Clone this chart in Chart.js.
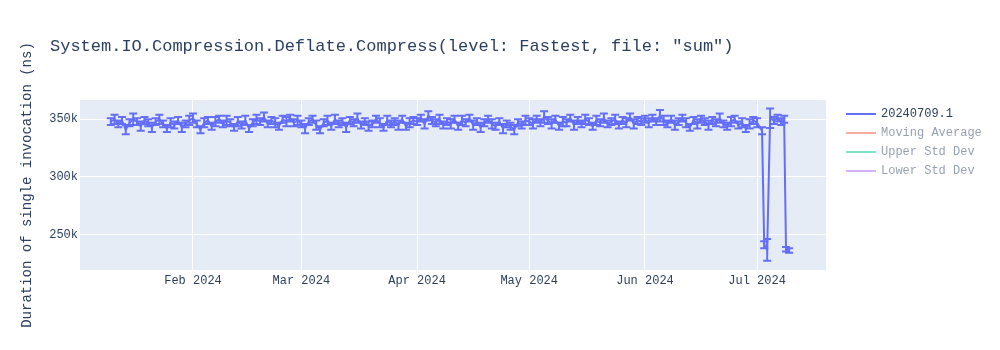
<!DOCTYPE html>
<html><head><meta charset="utf-8">
<script src="https://cdn.jsdelivr.net/npm/chart.js@4.4.1/dist/chart.umd.min.js"></script>
<style>html,body{margin:0;padding:0;background:#fff}#wrap{width:1000px;height:350px}</style>
</head><body><div id="wrap"><canvas id="c" width="1000" height="350"></canvas></div>
<script>
const chartTitle = 'System.IO.Compression.Deflate.Compress(level: Fastest, file: "sum")';
const yAxisTitle = 'Duration of single invocation (ns)';
const seriesNames = ['20240709.1', 'Moving Average', 'Upper Std Dev', 'Lower Std Dev'];
const seriesColors = ['#636efa', '#EF553B', '#00cc96', '#ab63fa'];
const seriesHidden = [false, true, true, true];

const dates = [
'2024-01-10','2024-01-11','2024-01-12','2024-01-13','2024-01-14','2024-01-15','2024-01-16','2024-01-17','2024-01-18','2024-01-19','2024-01-20',
'2024-01-21','2024-01-22','2024-01-23','2024-01-24','2024-01-25','2024-01-26','2024-01-27','2024-01-28','2024-01-29','2024-01-30','2024-01-31',
'2024-02-01','2024-02-02','2024-02-03','2024-02-04','2024-02-05','2024-02-06','2024-02-07','2024-02-08','2024-02-09','2024-02-10',
'2024-02-11','2024-02-12','2024-02-13','2024-02-14','2024-02-15','2024-02-16','2024-02-17','2024-02-18','2024-02-19','2024-02-20',
'2024-02-21','2024-02-22','2024-02-23','2024-02-24','2024-02-25','2024-02-26','2024-02-27','2024-02-28','2024-02-29',
'2024-03-01','2024-03-02','2024-03-03','2024-03-04','2024-03-05','2024-03-06','2024-03-07','2024-03-08','2024-03-09','2024-03-10',
'2024-03-11','2024-03-12','2024-03-13','2024-03-14','2024-03-15','2024-03-16','2024-03-17','2024-03-18','2024-03-19','2024-03-20',
'2024-03-21','2024-03-22','2024-03-23','2024-03-24','2024-03-25','2024-03-26','2024-03-27','2024-03-28','2024-03-29','2024-03-30','2024-03-31',
'2024-04-01','2024-04-02','2024-04-03','2024-04-04','2024-04-05','2024-04-06','2024-04-07','2024-04-08','2024-04-09','2024-04-10',
'2024-04-11','2024-04-12','2024-04-13','2024-04-14','2024-04-15','2024-04-16','2024-04-17','2024-04-18','2024-04-19','2024-04-20',
'2024-04-21','2024-04-22','2024-04-23','2024-04-24','2024-04-25','2024-04-26','2024-04-27','2024-04-28','2024-04-29','2024-04-30',
'2024-05-01','2024-05-02','2024-05-03','2024-05-04','2024-05-05','2024-05-06','2024-05-07','2024-05-08','2024-05-09','2024-05-10',
'2024-05-11','2024-05-12','2024-05-13','2024-05-14','2024-05-15','2024-05-16','2024-05-17','2024-05-18','2024-05-19','2024-05-20',
'2024-05-21','2024-05-22','2024-05-23','2024-05-24','2024-05-25','2024-05-26','2024-05-27','2024-05-28','2024-05-29','2024-05-30','2024-05-31',
'2024-06-01','2024-06-02','2024-06-03','2024-06-04','2024-06-05','2024-06-06','2024-06-07','2024-06-08','2024-06-09','2024-06-10',
'2024-06-11','2024-06-12','2024-06-13','2024-06-14','2024-06-15','2024-06-16','2024-06-17','2024-06-18','2024-06-19','2024-06-20',
'2024-06-21','2024-06-22','2024-06-23','2024-06-24','2024-06-25','2024-06-26','2024-06-27','2024-06-28','2024-06-29','2024-06-30',
'2024-07-01T00:00','2024-07-02T08:00','2024-07-02T22:00','2024-07-03T17:00','2024-07-04T12:00','2024-07-05T12:00','2024-07-06T12:00',
'2024-07-07T12:00','2024-07-08T06:00','2024-07-08T18:00','2024-07-09T14:00'
];

const values = [
348000,350000,346000,349000,341000,347000,350000,348000,344000,349000,347000,343000,348000,350000,346000,342000,347000,345000,349000,343000,346000,349000,
351000,346000,341000,347000,349000,344000,348000,350000,346000,349000,347000,343000,348000,345000,349000,342000,347000,350000,348000,352000,346000,349000,347000,344000,350000,348000,351000,347000,349000,
346000,342000,348000,350000,345000,341000,347000,349000,344000,350000,346000,348000,343000,349000,347000,351000,345000,348000,344000,346000,350000,347000,343000,349000,346000,348000,345000,350000,344000,347000,349000,
348000,351000,346000,353000,349000,347000,350000,345000,348000,346000,350000,344000,349000,347000,351000,345000,348000,343000,347000,350000,346000,344000,348000,342000,346000,344000,341000,347000,345000,349000,
348000,346000,350000,347000,352000,349000,346000,350000,344000,348000,347000,351000,345000,349000,346000,350000,348000,344000,349000,347000,351000,346000,348000,350000,345000,349000,347000,352000,346000,349000,348000,
350000,347000,351000,348000,353000,349000,346000,350000,345000,348000,351000,347000,343000,349000,346000,350000,348000,345000,349000,347000,351000,346000,344000,348000,350000,345000,347000,342000,346000,349000,
347000,340000,241000,236500,351000,349000,351000,348000,350000,237000,236000
];

const errors = [
3000,4000,3000,3000,4000,3000,5000,3000,4000,3000,3000,4000,3000,4000,3000,3000,4000,3000,3000,4000,3000,4000,
4000,3000,3000,4000,3000,3000,4000,3000,3000,4000,3000,3000,4000,3000,4000,3000,3000,4000,3000,4000,3000,3000,4000,3000,3000,4000,3000,3000,4000,
3000,4000,3000,3000,4000,3000,3000,4000,3000,4000,3000,3000,4000,3000,3000,4000,3000,3000,4000,3000,3000,4000,3000,4000,3000,3000,4000,3000,3000,4000,3000,
3000,3000,4000,4000,3000,3000,4000,3000,3000,4000,3000,3000,4000,3000,3000,4000,3000,4000,3000,3000,4000,3000,3000,4000,3000,3000,4000,3000,3000,4000,
3000,4000,3000,3000,5000,3000,4000,3000,3000,4000,3000,3000,4000,3000,3000,4000,3000,3000,4000,3000,4000,3000,3000,4000,3000,3000,4000,3000,4000,3000,3000,
3000,4000,3000,3000,5000,4000,3000,3000,4000,3000,3000,4000,3000,3000,4000,3000,3000,4000,3000,3000,4000,3000,3000,4000,3000,3000,4000,3000,4000,3000,
4000,3000,3000,9500,8500,3000,3000,3000,3000,2000,2000
];

const xTickDates = ['2024-02-01','2024-03-01','2024-04-01','2024-05-01','2024-06-01','2024-07-01'];
const xTickLabels = ['Feb 2024','Mar 2024','Apr 2024','May 2024','Jun 2024','Jul 2024'];
const xRange = ['2024-01-01T18:00','2024-07-19T11:00'];
const yTicks = [250000, 300000, 350000];
const yTickLabels = ['250k', '300k', '350k'];
const yRange = [219000, 366800];

function toMs(s) { return Date.parse(s.length === 10 ? s + 'T00:00:00Z' : s + ':00Z'); }

const FONT = '"Liberation Mono", "Courier New", monospace';
const TEXT = '#2a3f5f';

const bgPlugin = {
  id: 'bg',
  beforeDraw(chart) {
    const a = chart.chartArea, c = chart.ctx;
    c.save(); c.fillStyle = '#ffffff'; c.fillRect(0, 0, chart.width, chart.height);
    c.fillStyle = '#E5ECF6'; c.fillRect(a.left, a.top, a.right - a.left, a.bottom - a.top); c.restore();
  }
};

const errorBarPlugin = {
  id: 'errbars',
  afterDatasetsDraw(chart) {
    const c = chart.ctx, xs = chart.scales.x, ys = chart.scales.y, a = chart.chartArea;
    chart.data.datasets.forEach((ds, di) => {
      if (!ds.errors || !chart.isDatasetVisible(di)) return;
      c.save();
      c.beginPath(); c.rect(a.left, a.top, a.right - a.left, a.bottom - a.top); c.clip();
      c.strokeStyle = ds.borderColor; c.lineWidth = 2;
      ds.data.forEach((p, i) => {
        const px = xs.getPixelForValue(p.x);
        const y1 = ys.getPixelForValue(p.y + ds.errors[i]);
        const y2 = ys.getPixelForValue(p.y - ds.errors[i]);
        c.beginPath();
        c.moveTo(px, y1); c.lineTo(px, y2);
        c.moveTo(px - 4, y1); c.lineTo(px + 4, y1);
        c.moveTo(px - 4, y2); c.lineTo(px + 4, y2);
        c.stroke();
      });
      c.restore();
    });
  }
};

const titlePlugin = {
  id: 'ptitle',
  afterDraw(chart) {
    const c = chart.ctx;
    c.save(); c.font = '17px ' + FONT; c.fillStyle = TEXT; c.textBaseline = 'middle'; c.textAlign = 'left';
    c.fillText(chartTitle, 50, 46); c.restore();
  }
};

const legendPlugin = {
  id: 'plegend',
  afterDraw(chart) {
    const c = chart.ctx;
    chart.data.datasets.forEach((ds, i) => {
      const y = 114 + i * 19;
      c.save();
      c.globalAlpha = ds.legendOnly ? 0.5 : 1;
      c.strokeStyle = ds.borderColor; c.lineWidth = 2;
      c.beginPath(); c.moveTo(846, y); c.lineTo(876, y); c.stroke();
      c.font = '12px ' + FONT; c.fillStyle = TEXT; c.textBaseline = 'middle'; c.textAlign = 'left';
      c.fillText(ds.label, 881, y);
      c.restore();
    });
  }
};

const datasets = seriesNames.map((name, i) => {
  const ds = {
    label: name,
    data: i === 0 ? dates.map((d, k) => ({ x: toMs(d), y: values[k] })) : [],
    borderColor: seriesColors[i],
    backgroundColor: seriesColors[i],
    borderWidth: 2, pointRadius: 0, tension: 0, fill: false,
    hidden: seriesHidden[i], legendOnly: seriesHidden[i]
  };
  if (i === 0) ds.errors = errors;
  return ds;
});

new Chart(document.getElementById('c'), {
  type: 'line',
  data: { datasets },
  options: {
    responsive: false, animation: false, devicePixelRatioA: 1,
    layout: { padding: { left: 0, right: 174, top: 100, bottom: 0 } },
    scales: {
      x: {
        type: 'linear', min: toMs(xRange[0]), max: toMs(xRange[1]),
        afterBuildTicks: s => { s.ticks = xTickDates.map(d => ({ value: toMs(d) })); },
        afterFit: s => { s.height = 80; },
        ticks: { autoSkip: false, maxRotation: 0, padding: 4, color: TEXT, font: { family: FONT, size: 12 },
                 callback: (v, i) => xTickLabels[i] },
        grid: { color: '#ffffff', lineWidth: 1, drawTicks: false },
        border: { display: false }
      },
      y: {
        type: 'linear', min: yRange[0], max: yRange[1],
        afterBuildTicks: s => { s.ticks = yTicks.map(v => ({ value: v })); },
        afterFit: s => { s.width = 80; },
        ticks: { padding: 2, color: TEXT, font: { family: FONT, size: 12 },
                 callback: (v, i) => yTickLabels[i] },
        grid: { color: '#ffffff', lineWidth: 1, drawTicks: false },
        border: { display: false },
        title: { display: true, text: yAxisTitle, color: TEXT, font: { family: FONT, size: 14 }, padding: { top: 19, bottom: 0 } }
      }
    },
    plugins: { legend: { display: false }, title: { display: false }, tooltip: { enabled: false } }
  },
  plugins: [bgPlugin, errorBarPlugin, titlePlugin, legendPlugin]
});
</script></body></html>
